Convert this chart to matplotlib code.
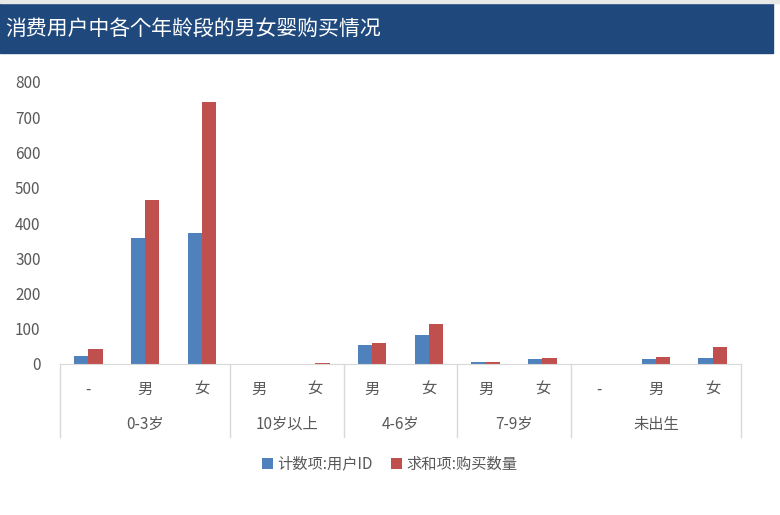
import matplotlib
matplotlib.use("Agg")
import matplotlib.pyplot as plt
from matplotlib import font_manager
import numpy as np

cjk = None
for f in font_manager.fontManager.ttflist:
    if "CJK SC" in f.name or "CJK" in f.name:
        cjk = f.name
        if "SC" in f.name:
            break
plt.rcParams["font.family"] = "sans-serif"
plt.rcParams["font.sans-serif"] = [n for n in [cjk, "Noto Sans CJK SC", "DejaVu Sans"] if n]
plt.rcParams["axes.unicode_minus"] = False

title = "消费用户中各个年龄段的男女婴购买情况"
groups = ["0-3岁", "10岁以上", "4-6岁", "7-9岁", "未出生"]
subcats = [["-", "男", "女"], ["男", "女"], ["男", "女"], ["男", "女"], ["-", "男", "女"]]
count_ids = [22, 357, 371, 0, 1, 53, 82, 5, 14, 0, 14, 17]
sum_qty = [42, 466, 744, 0, 3, 59, 114, 5, 17, 0, 20, 48]
series_names = ["计数项:用户ID", "求和项:购买数量"]
colors = ["#4F81BD", "#C0504D"]

W, H = 780, 515
fig = plt.figure(figsize=(7.8, 5.15), dpi=100)

fig.patches.append(plt.Rectangle((0, (H - 53) / H), 773 / W, 50 / H, transform=fig.transFigure,
                                 color="#1F497D", zorder=0))
fig.patches.append(plt.Rectangle((0, (H - 3) / H), 1, 3 / H, transform=fig.transFigure,
                                 color="#E8E8E8", zorder=0))
fig.text(5 / W, 1 - 29 / H, title, color="white", fontsize=15, va="center", ha="left")

x0, x1, y0, ytop = 60, 741, 364, 82
ax = fig.add_axes([x0 / W, (H - y0) / H, (x1 - x0) / W, (y0 - ytop) / H])
n = len(count_ids)
x = np.arange(n)
bw = 0.25
ax.bar(x - bw / 2, count_ids, bw, color=colors[0], label=series_names[0])
ax.bar(x + bw / 2, sum_qty, bw, color=colors[1], label=series_names[1])
ax.set_xlim(-0.5, n - 0.5)
ax.set_ylim(0, 800)
ax.set_yticks(range(0, 801, 100))
ax.tick_params(axis="y", length=0, labelsize=11, labelcolor="#595959", pad=14)
ax.set_xticks([])
for s in ["top", "right", "left"]:
    ax.spines[s].set_visible(False)
ax.spines["bottom"].set_color("#D9D9D9")

trans = ax.get_xaxis_transform()
pos = 0
bounds = [-0.5]
for g, subs in zip(groups, subcats):
    for i, s in enumerate(subs):
        ax.text(pos + i, -25 / (y0 - ytop), s, transform=trans, ha="center", va="center",
                fontsize=11, color="#595959", clip_on=False)
    ax.text(pos + (len(subs) - 1) / 2, -60 / (y0 - ytop), g, transform=trans, ha="center",
            va="center", fontsize=11, color="#595959", clip_on=False)
    pos += len(subs)
    bounds.append(pos - 0.5)
for b in bounds:
    ax.plot([b, b], [0, -73 / (y0 - ytop)], transform=trans, color="#D9D9D9", lw=1, clip_on=False)

fig.legend(loc="center", bbox_to_anchor=(390 / W, 1 - 464 / H), ncol=2, frameon=False,
           fontsize=11, handlelength=0.7, handleheight=0.7, columnspacing=1.2,
           handletextpad=0.3, labelcolor="#595959")
fig.savefig("out.png", dpi=100)
